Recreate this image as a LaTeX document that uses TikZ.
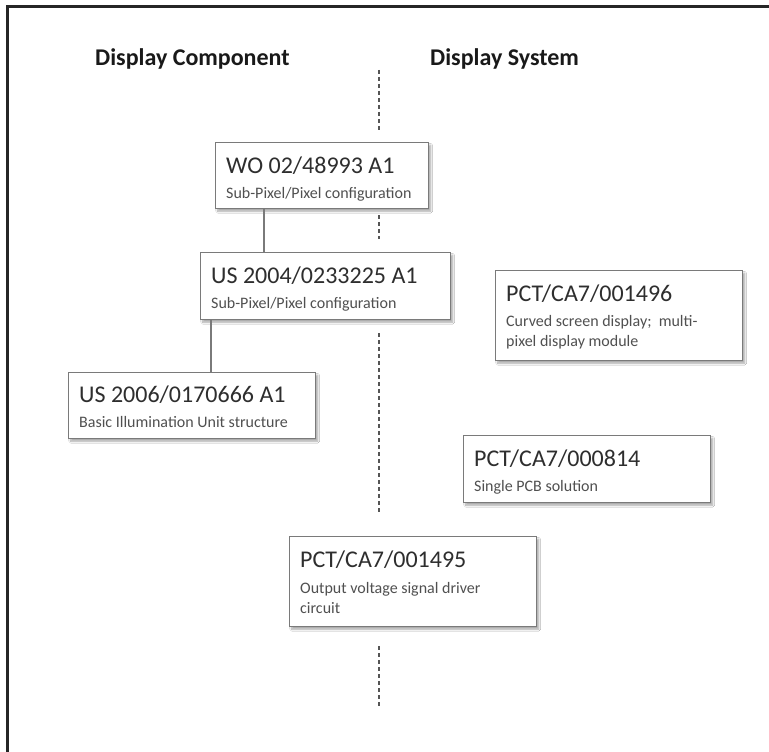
\documentclass[tikz,border=0pt]{standalone}
\usepackage{fontspec}
\setmainfont{Carlito}
\usetikzlibrary{shadows.blur}
\definecolor{boxline}{HTML}{7A7A7A}
\definecolor{titlecol}{HTML}{2E2E2E}
\definecolor{subcol}{HTML}{505050}
\definecolor{dashcol}{HTML}{555555}
\begin{document}
\begin{tikzpicture}[x=1pt,y=-1pt,
  pbox/.style={draw=boxline, line width=1.4pt, fill=white, inner sep=0pt,
    minimum width=247pt, anchor=north west,
    blur shadow={shadow xshift=2pt, shadow yshift=-2.5pt, shadow blur steps=6, shadow opacity=35}},
  ptitle/.style={anchor=base west, inner sep=0pt, font=\fontsize{24}{28}\selectfont, text=titlecol},
  psub/.style={anchor=base west, inner sep=0pt, font=\fontsize{16}{20}\selectfont, text=subcol},
  head/.style={anchor=base west, inner sep=0pt, font=\bfseries\fontsize{24}{28}\selectfont, text=black!90},
  divider/.style={draw=dashcol, line width=1.6pt, dash pattern=on 4pt off 3pt},
  link/.style={draw=boxline, line width=1.4pt}]
\useasboundingbox (0,0) rectangle (769,752);
\fill[white] (0,0) rectangle (769,752);
% frame (top and left edges)
\draw[line width=3pt, black!85] (7.5,752) -- (7.5,6.5) -- (769,6.5);

% headings
\node[head] (hcomp) at (95,66) {Display Component};
\node[head] (hsys) at (430,66) {Display System};

% boxes
\node[pbox, minimum width=213pt, minimum height=66pt] (wo) at (215,142) {};
\node[pbox, minimum width=250pt, minimum height=67pt] (us4) at (200,252) {};
\node[pbox, minimum height=66pt] (us6) at (68,372) {};
\node[pbox, minimum height=90pt] (p1496) at (495,270) {};
\node[pbox, minimum height=67pt] (p814) at (463,435) {};
\node[pbox, minimum height=90pt] (p1495) at (289,536) {};

% texts
\node[ptitle] (wot) at (226,173) {WO 02/48993 A1};
\node[psub] (wos) at (226,198) {Sub-Pixel/Pixel configuration};
\node[ptitle] (us4t) at (211,283) {US 2004/0233225 A1};
\node[psub] (us4s) at (211,308) {Sub-Pixel/Pixel configuration};
\node[ptitle] (us6t) at (79,402) {US 2006/0170666 A1};
\node[psub] (us6s) at (79,427) {Basic Illumination Unit structure};
\node[ptitle] (p1496t) at (506,301) {PCT/CA7/001496};
\node[psub] (p1496s) at (506,326) {Curved screen display;\ \ multi-};
\node[psub] (p1496s2) at (506,346) {pixel display module};
\node[ptitle] (p814t) at (474,466) {PCT/CA7/000814};
\node[psub] (p814s) at (474,491) {Single PCB solution};
\node[ptitle] (p1495t) at (300,567) {PCT/CA7/001495};
\node[psub] (p1495s) at (300,593) {Output voltage signal driver};
\node[psub] (p1495s2) at (300,613) {circuit};

% connectors
\coordinate (k1) at (264,0);
\coordinate (k2) at (211,0);
\draw[link] (wo.south -| k1) -- (us4.north -| k1);
\draw[link] (us4.south -| k2) -- (us6.north -| k2);

% dashed divider
\coordinate (d1a) at (379,70);
\coordinate (d1b) at (379,130);
\coordinate (d2a) at (379,215);
\coordinate (d2b) at (379,239);
\coordinate (d3a) at (379,333);
\coordinate (d3b) at (379,513);
\coordinate (d4a) at (379,646);
\coordinate (d4b) at (379,707);
\draw[divider] (d1a) -- (d1b);
\draw[divider] (d2a) -- (d2b);
\draw[divider] (d3a) -- (d3b);
\draw[divider] (d4a) -- (d4b);
\end{tikzpicture}
\end{document}
